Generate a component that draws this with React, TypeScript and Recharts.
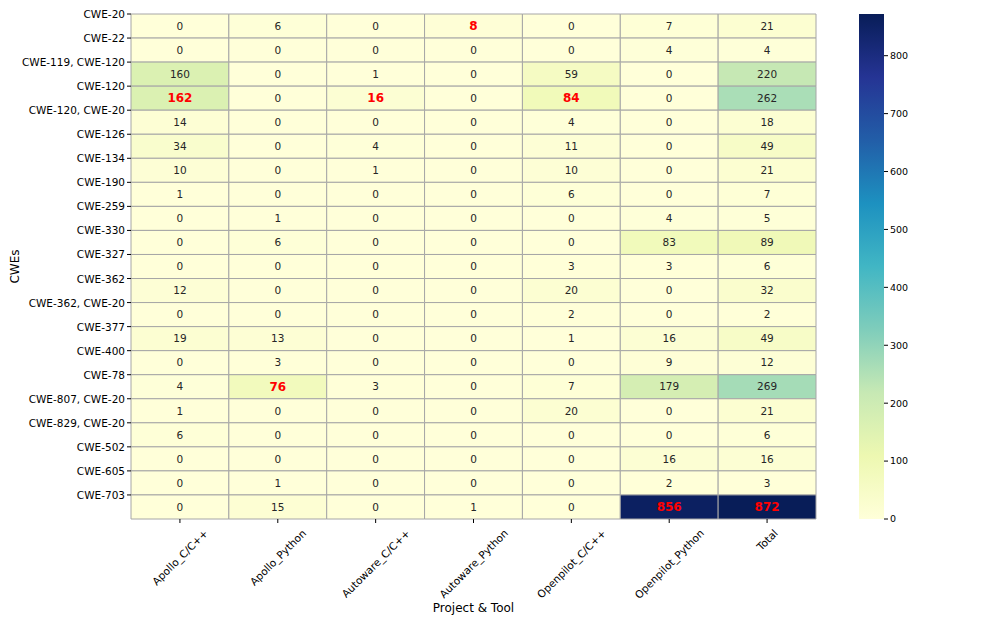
import React from 'react';
import { ComposedChart, XAxis, YAxis, ReferenceArea } from 'recharts';

const CWES = [
  'CWE-20', 'CWE-22', 'CWE-119, CWE-120', 'CWE-120', 'CWE-120, CWE-20', 'CWE-126', 'CWE-134',
  'CWE-190', 'CWE-259', 'CWE-330', 'CWE-327', 'CWE-362', 'CWE-362, CWE-20', 'CWE-377',
  'CWE-400', 'CWE-78', 'CWE-807, CWE-20', 'CWE-829, CWE-20', 'CWE-502', 'CWE-605', 'CWE-703',
];

const TOOLS = [
  'Apollo_C/C++', 'Apollo_Python', 'Autoware_C/C++', 'Autoware_Python',
  'Openpilot_C/C++', 'Openpilot_Python', 'Total',
];

// one row per CWE, columns follow TOOLS
const COUNTS = [
  [0, 6, 0, 8, 0, 7, 21],
  [0, 0, 0, 0, 0, 4, 4],
  [160, 0, 1, 0, 59, 0, 220],
  [162, 0, 16, 0, 84, 0, 262],
  [14, 0, 0, 0, 4, 0, 18],
  [34, 0, 4, 0, 11, 0, 49],
  [10, 0, 1, 0, 10, 0, 21],
  [1, 0, 0, 0, 6, 0, 7],
  [0, 1, 0, 0, 0, 4, 5],
  [0, 6, 0, 0, 0, 83, 89],
  [0, 0, 0, 0, 3, 3, 6],
  [12, 0, 0, 0, 20, 0, 32],
  [0, 0, 0, 0, 2, 0, 2],
  [19, 13, 0, 0, 1, 16, 49],
  [0, 3, 0, 0, 0, 9, 12],
  [4, 76, 3, 0, 7, 179, 269],
  [1, 0, 0, 0, 20, 0, 21],
  [6, 0, 0, 0, 0, 0, 6],
  [0, 0, 0, 0, 0, 16, 16],
  [0, 1, 0, 0, 0, 2, 3],
  [0, 15, 0, 1, 0, 856, 872],
];

// [row, col] of the values printed in bold red
const HIGHLIGHT = [[0, 3], [3, 0], [3, 2], [3, 4], [15, 1], [20, 5], [20, 6]];

const VMAX = 872;
const CBAR_TICKS = [0, 100, 200, 300, 400, 500, 600, 700, 800];

const YLGNBU = ['#ffffd9', '#edf8b1', '#c7e9b4', '#7fcdbb', '#41b6c4', '#1d91c0', '#225ea8', '#253494', '#081d58'];

const hex = (c: string) => [1, 3, 5].map(i => parseInt(c.slice(i, i + 2), 16));

const cellColor = (v: number) => {
  const t = Math.max(0, Math.min(1, v / VMAX)) * (YLGNBU.length - 1);
  const i = Math.min(Math.floor(t), YLGNBU.length - 2);
  const f = t - i;
  const a = hex(YLGNBU[i]);
  const b = hex(YLGNBU[i + 1]);
  const rgb = a.map((x, k) => Math.round(x + (b[k] - x) * f));
  return `rgb(${rgb.join(',')})`;
};

const isHot = (r: number, c: number) => HIGHLIGHT.some(([hr, hc]) => hr === r && hc === c);

const FONT = 10.5;

// rotated label, centred under its tick like matplotlib's rotation=45
const XTick = (props: any) => {
  const { x, y, payload } = props;
  const ref = React.useRef<SVGTextElement>(null);
  const [len, setLen] = React.useState(70);
  React.useLayoutEffect(() => {
    if (ref.current) setLen(ref.current.getComputedTextLength());
  }, []);
  const cy = y + 2 + ((len + FONT * 1.1) * Math.SQRT1_2) / 2;
  return (
    <text
      ref={ref}
      x={x}
      y={cy}
      transform={`rotate(-45, ${x}, ${cy})`}
      textAnchor="middle"
      dominantBaseline="central"
      fontSize={FONT}
      fill="#000"
    >
      {TOOLS[Math.floor(payload.value)]}
    </text>
  );
};

const YTick = (props: any) => {
  const { x, y, payload } = props;
  return (
    <text x={x} y={y} textAnchor="end" dominantBaseline="central" fontSize={FONT} fill="#000">
      {CWES[payload.value]}
    </text>
  );
};

const ColorBar = (props: any) => {
  const { x, y, width, height } = props;
  return (
    <g>
      <defs>
        <linearGradient id="ylgnbu" x1="0" y1="1" x2="0" y2="0">
          {YLGNBU.map((c, i) => (
            <stop key={c} offset={i / (YLGNBU.length - 1)} stopColor={c} />
          ))}
        </linearGradient>
      </defs>
      <rect x={x} y={y} width={width} height={height} fill="url(#ylgnbu)" />
    </g>
  );
};

const CBAR_DATA = [{ x: 0, y: 0 }, { x: 1, y: VMAX }];

const App: React.FC = () => {
  const cells: React.ReactNode[] = [];
  COUNTS.forEach((row, r) => {
    row.forEach((v, c) => {
      const hot = isHot(r, c);
      cells.push(
        <ReferenceArea
          key={`c-${r}-${c}`}
          x1={c}
          x2={c + 1}
          y1={r}
          y2={r + 1}
          fill={cellColor(v)}
          fillOpacity={1}
          stroke="#a6a6a6"
          strokeWidth={1}
          ifOverflow="visible"
          label={{
            value: String(v),
            position: 'center',
            fill: hot ? '#ff0000' : v > VMAX * 0.6 ? '#ffffff' : '#262626',
            fontSize: hot ? 12 : FONT,
            fontWeight: hot ? 'bold' : 'normal',
          }}
        />
      );
    });
  });

  return (
    <div style={{ position: 'relative', width: 997, height: 623, margin: -8, background: '#fff', fontFamily: '"DejaVu Sans", sans-serif' }}>
      <div style={{ position: 'absolute', left: 0, top: 0 }}>
        <ComposedChart width={997} height={623} margin={{ top: 14, right: 181, bottom: 0, left: 0 }}>
          <XAxis
            type="number"
            dataKey="x"
            domain={[0, 7]}
            ticks={[0.5, 1.5, 2.5, 3.5, 4.5, 5.5, 6.5]}
            interval={0}
            height={104}
            axisLine={false}
            tickLine={{ stroke: '#000' }}
            tickSize={4}
            tick={<XTick />}
            allowDataOverflow
            label={{ value: 'Project & Tool', position: 'insideBottom', offset: 11, fontSize: 12, fill: '#000' }}
          />
          <YAxis
            type="number"
            dataKey="y"
            domain={[0, 21]}
            reversed
            ticks={CWES.map((_, i) => i)}
            interval={0}
            width={131}
            axisLine={false}
            tickLine={{ stroke: '#000' }}
            tickSize={4}
            tick={<YTick />}
            allowDataOverflow
            label={{ value: 'CWEs', angle: -90, position: 'insideLeft', offset: 15, fontSize: 12, fill: '#000', textAnchor: 'middle' }}
          />
          {cells}
        </ComposedChart>
      </div>
      <div style={{ position: 'absolute', left: 0, top: 0 }}>
        <ComposedChart data={CBAR_DATA} width={997} height={623} margin={{ top: 14, right: 73, bottom: 104, left: 859 }}>
          <XAxis type="number" dataKey="x" domain={[0, 1]} hide />
          <YAxis
            type="number"
            dataKey="y"
            orientation="right"
            domain={[0, VMAX]}
            ticks={CBAR_TICKS}
            interval={0}
            width={40}
            axisLine={false}
            tickLine={{ stroke: '#000' }}
            tickSize={4}
            tick={{ fontSize: 9.5, fill: '#000' }}
            allowDataOverflow
          />
          <ReferenceArea x1={0} x2={1} y1={0} y2={VMAX} fill="url(#ylgnbu)" fillOpacity={1} ifOverflow="visible" shape={ColorBar} />
        </ComposedChart>
      </div>
    </div>
  );
};

export default App;
